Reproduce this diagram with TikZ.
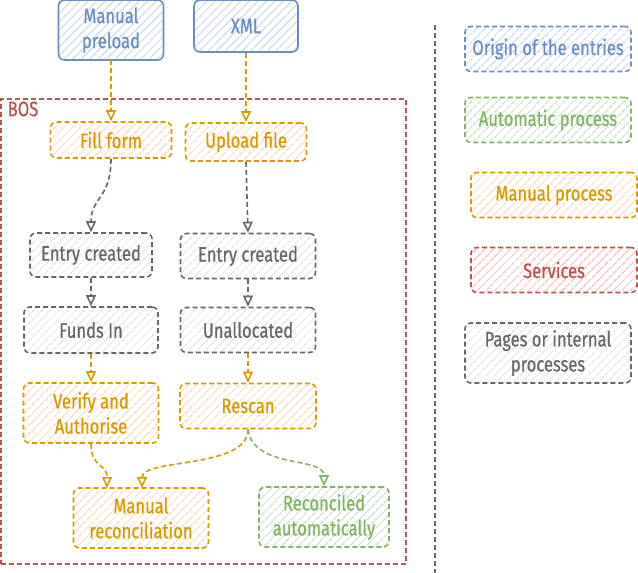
\documentclass[tikz,border=0pt]{standalone}
\usepackage{fontspec}
\setmainfont{Fira Sans}[FakeStretch=0.79,FakeBold=0.6]
\usetikzlibrary{arrows.meta,patterns.meta}
\definecolor{bluS}{HTML}{6C8EBF}
\definecolor{bluF}{HTML}{BFD3F0}
\definecolor{oraS}{HTML}{D79B00}
\definecolor{oraF}{HTML}{FFD2AE}
\definecolor{grnS}{HTML}{82B366}
\definecolor{grnF}{HTML}{BEDCBB}
\definecolor{redS}{HTML}{B85450}
\definecolor{redF}{HTML}{F2B5B2}
\definecolor{gryS}{HTML}{666666}
\definecolor{gryF}{HTML}{E0E0E0}
\tikzset{
  box/.style={rounded corners=6pt, line width=1.6pt, align=center,
    font=\fontsize{21}{25}\selectfont, inner sep=0pt, anchor=center},
  dsh/.style={dash pattern=on 5pt off 3pt},
  hatch/.style={pattern={Lines[angle=45,distance=6pt,line width=0.8pt]}, pattern color=#1},
  bluebox/.style={box, draw=bluS, text=bluS, hatch=bluF},
  orabox/.style={box, dsh, draw=oraS, text=oraS, hatch=oraF},
  grnbox/.style={box, dsh, draw=grnS, text=grnS, hatch=grnF},
  redbox/.style={box, dsh, draw=redS, text=redS, hatch=redF},
  grybox/.style={box, dsh, draw=gryS, text=gryS, hatch=gryF},
  arr/.style={-{Triangle[open,length=11pt,width=10pt]}, line width=1.6pt, dsh},
}
\begin{document}
\begin{tikzpicture}[x=1pt,y=-1pt]
\useasboundingbox (0,0) rectangle (638,573);
% BOS frame
\node[draw=redS, dsh, line width=1.6pt, minimum width=405pt, minimum height=465pt, inner sep=0pt, anchor=north west] (bos) at (0,98) {};
\node[text=redS, font=\fontsize{21}{25}\selectfont, inner sep=0pt] (boslabel) at (23,109) {BOS};
% separator
\coordinate (septop) at (435,25);
\coordinate (sepbot) at (435,573);
\draw[gryS, dsh, line width=1.6pt] (septop) -- (sepbot);
% origin
\node[bluebox, minimum width=105pt, minimum height=60pt] (mp) at (111,30) {Manual\\preload};
\node[bluebox, minimum width=104pt, minimum height=52pt] (xml) at (246,26) {XML};
% manual
\node[orabox, minimum width=121pt, minimum height=36pt] (ff) at (111,140) {Fill form};
\node[orabox, minimum width=121pt, minimum height=38pt] (uf) at (246,142) {Upload file};
% pages
\node[grybox, minimum width=122pt, minimum height=44pt] (ec1) at (91,255) {Entry created};
\node[grybox, minimum width=135pt, minimum height=45pt] (ec2) at (248,256) {Entry created};
\node[grybox, minimum width=134pt, minimum height=46pt] (fi) at (91,330) {Funds In};
\node[grybox, minimum width=135pt, minimum height=45pt] (un) at (248,330) {Unallocated};
\node[orabox, minimum width=135pt, minimum height=60pt] (va) at (91,413) {Verify and\\Authorise};
\node[orabox, minimum width=136pt, minimum height=45pt] (rs) at (248,406) {Rescan};
\node[orabox, minimum width=135pt, minimum height=60pt] (mr) at (141,518) {Manual\\reconciliation};
\node[grnbox, minimum width=130pt, minimum height=60pt] (ra) at (324,517) {Reconciled\\automatically};
% legend
\node[box, dsh, draw=bluS, text=bluS, hatch=bluF, minimum width=166pt, minimum height=45pt] (lg1) at (548,49) {Origin of the entries};
\node[grnbox, minimum width=166pt, minimum height=45pt] (lg2) at (548,120) {Automatic process};
\node[orabox, minimum width=166pt, minimum height=45pt] (lg3) at (554,195) {Manual process};
\node[redbox, minimum width=166pt, minimum height=45pt] (lg4) at (554,270) {Services};
\node[grybox, minimum width=166pt, minimum height=60pt] (lg5) at (548,353) {Pages or internal\\processes};
% connectors
\draw[arr, oraS] (mp.south) -- (ff.north);
\draw[arr, oraS] (xml.south) -- (uf.north);
\draw[arr, gryS] (ff.south) .. controls +(0,40) and +(0,-35) .. (ec1.north);
\draw[arr, gryS] (uf.south) -- (ec2.north);
\draw[arr, gryS] (ec1.south) -- (fi.north);
\draw[arr, gryS] (ec2.south) -- (un.north);
\draw[arr, oraS] (fi.south) -- (va.north);
\draw[arr, oraS] (un.south) -- (rs.north);
\coordinate (mrin1) at (107,488);
\coordinate (mrin2) at (142,488);
\draw[arr, oraS] (va.south) .. controls +(0,25) and +(0,-25) .. (mrin1);
\draw[arr, oraS] (rs.south) .. controls +(0,40) and +(0,-30) .. (mrin2);
\draw[arr, grnS] (rs.south) .. controls +(5,40) and +(0,-30) .. (ra.north);
\end{tikzpicture}
\end{document}
